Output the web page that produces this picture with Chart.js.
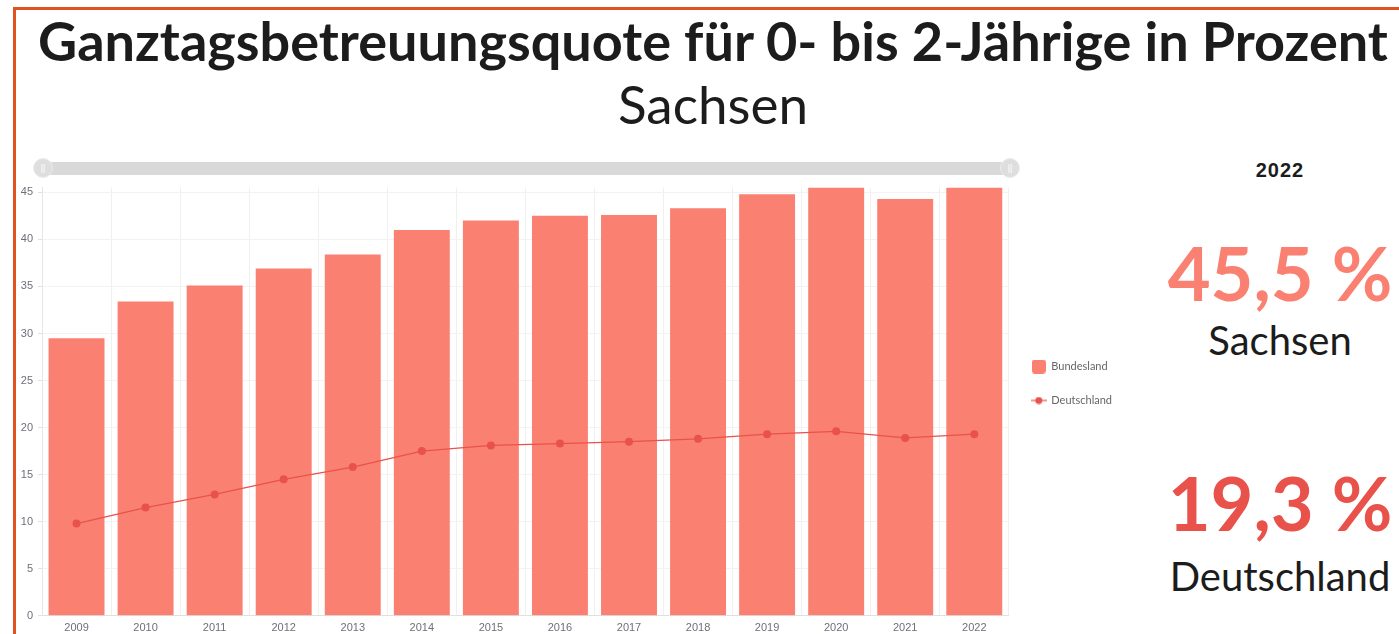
<!DOCTYPE html>
<html lang="de">
<head>
<meta charset="utf-8">
<title>Ganztagsbetreuungsquote Sachsen</title>
<script src="https://cdn.jsdelivr.net/npm/chart.js@4"></script>
<style>
  html, body { margin: 0; padding: 0; background: #fff; overflow: hidden; }
  body { width: 1399px; height: 634px; position: relative; font-family: Lato, sans-serif; color: #1c1c1c; }
  .frame { position: absolute; left: 13px; top: 7px; width: 1500px; height: 700px; border: 3px solid #e0521f; box-sizing: border-box; }
  .abs { position: absolute; white-space: nowrap; line-height: 1; }
  #title { left: 13px; width: 1400px; top: 14px; text-align: center; font-size: 54px; font-weight: 700; }
  #subtitle { left: 13px; width: 1400px; top: 77px; text-align: center; font-size: 53px; }
  .side { left: 1160px; width: 240px; text-align: center; }
  #year { top: 160px; font-family: "Liberation Sans", Arial, sans-serif; font-weight: 700; font-size: 20px; letter-spacing: 1px; }
  #valLand { top: 236px; font-size: 74px; font-weight: 700; color: #fa8072; }
  #nameLand { top: 320px; font-size: 40px; }
  #valDe { top: 466px; font-size: 74px; font-weight: 700; color: #e8524a; }
  #nameDe { top: 556px; font-size: 40px; }
  .track { position: absolute; left: 42px; top: 162px; width: 970px; height: 13px; background: #d9d9d9; }
  .knob { position: absolute; top: 158px; width: 20px; height: 20px; border-radius: 50%; background: #dedede; border: 1px solid #ececec; box-sizing: border-box;
          color: #fff; font: 9px "Liberation Sans", sans-serif; text-align: center; line-height: 18px; }
  #chartBox { position: absolute; left: 0; top: 176px; width: 1122px; height: 466px; }
</style>
</head>
<body>
<div class="frame"></div>
<div id="title" class="abs">Ganztagsbetreuungsquote für 0- bis 2-Jährige in Prozent</div>
<div id="subtitle" class="abs">Sachsen</div>

<div class="track"></div>
<div class="knob" style="left:33px">||</div>
<div class="knob" style="left:1000px">||</div>

<div id="chartBox"><canvas id="chart"></canvas></div>

<div id="year" class="abs side"></div>
<div id="valLand" class="abs side"></div>
<div id="nameLand" class="abs side">Sachsen</div>
<div id="valDe" class="abs side"></div>
<div id="nameDe" class="abs side">Deutschland</div>

<script>
const years = ['2009', '2010', '2011', '2012', '2013', '2014', '2015', '2016', '2017', '2018', '2019', '2020', '2021', '2022'];
const bundesland = [29.5, 33.4, 35.1, 36.9, 38.4, 41.0, 42.0, 42.5, 42.6, 43.3, 44.8, 45.5, 44.3, 45.5];
const deutschland = [9.8, 11.5, 12.9, 14.5, 15.8, 17.5, 18.1, 18.3, 18.5, 18.8, 19.3, 19.6, 18.9, 19.3];
const yTicks = [0, 5, 10, 15, 20, 25, 30, 35, 40, 45];

const barColor = '#fa8072';
const lineColor = '#e8524a';

// side panel shows the last year
const last = years.length - 1;
const fmt = v => v.toFixed(1).replace('.', ',') + ' %';
document.getElementById('year').textContent = years[last];
document.getElementById('valLand').textContent = fmt(bundesland[last]);
document.getElementById('valDe').textContent = fmt(deutschland[last]);

// small legend markers
function marker(w, h, draw) {
  const c = document.createElement('canvas');
  c.width = w; c.height = h;
  draw(c.getContext('2d'));
  return c;
}
const boxMark = marker(14, 14, g => {
  g.fillStyle = barColor;
  g.beginPath();
  g.roundRect(0, 0, 14, 14, 3);
  g.fill();
});
const lineMark = marker(16, 8, g => {
  g.strokeStyle = lineColor;
  g.lineWidth = 1.2;
  g.beginPath(); g.moveTo(0, 4); g.lineTo(16, 4); g.stroke();
  g.fillStyle = lineColor;
  g.beginPath(); g.arc(8, 4, 3.5, 0, Math.PI * 2); g.fill();
});

const tickFont = { family: '"Liberation Sans", Arial, sans-serif', size: 11 };

new Chart(document.getElementById('chart'), {
  type: 'bar',
  data: {
    labels: years,
    datasets: [{
      label: 'Bundesland',
      data: bundesland,
      backgroundColor: barColor,
      borderWidth: 0,
      barPercentage: 0.9,
      categoryPercentage: 0.9,
      order: 2
    }, {
      type: 'line',
      label: 'Deutschland',
      data: deutschland,
      borderColor: lineColor,
      backgroundColor: lineColor,
      borderWidth: 1.2,
      pointRadius: 4,
      pointBorderWidth: 0,
      tension: 0,
      order: 1
    }]
  },
  options: {
    responsive: true,
    maintainAspectRatio: false,
    animation: false,
    layout: { padding: { top: 10, bottom: 1, right: 0 } },
    plugins: {
      tooltip: { enabled: false },
      legend: {
        position: 'right',
        align: 'start',
        title: { display: true, text: ' ', font: { size: 10 }, padding: { top: 140, bottom: 0 } },
        labels: {
          usePointStyle: true,
          pointStyleWidth: 14,
          padding: 23,
          color: '#666',
          font: { family: 'Lato, sans-serif', size: 11 },
          generateLabels: chart => chart.data.datasets.map((ds, i) => ({
            text: ds.label,
            pointStyle: i === 0 ? boxMark : lineMark,
            fontColor: '#666',
            lineWidth: 0,
            datasetIndex: i
          }))
        }
      }
    },
    scales: {
      x: {
        grid: { color: '#f0f0f0', drawTicks: false },
        border: { color: '#e0e0e0' },
        ticks: { color: '#6e7079', font: tickFont, padding: 6, maxRotation: 0 }
      },
      y: {
        min: 0,
        max: Math.max(...bundesland),
        afterBuildTicks: s => { s.ticks = yTicks.map(v => ({ value: v })); },
        afterFit: s => { s.width = 42; },
        grid: { color: '#f3f3f3', tickColor: '#e0e0e0', tickLength: 4 },
        border: { color: '#e6e6e6' },
        ticks: { color: '#6e7079', font: tickFont, padding: 5 }
      }
    }
  }
});
</script>
</body>
</html>
